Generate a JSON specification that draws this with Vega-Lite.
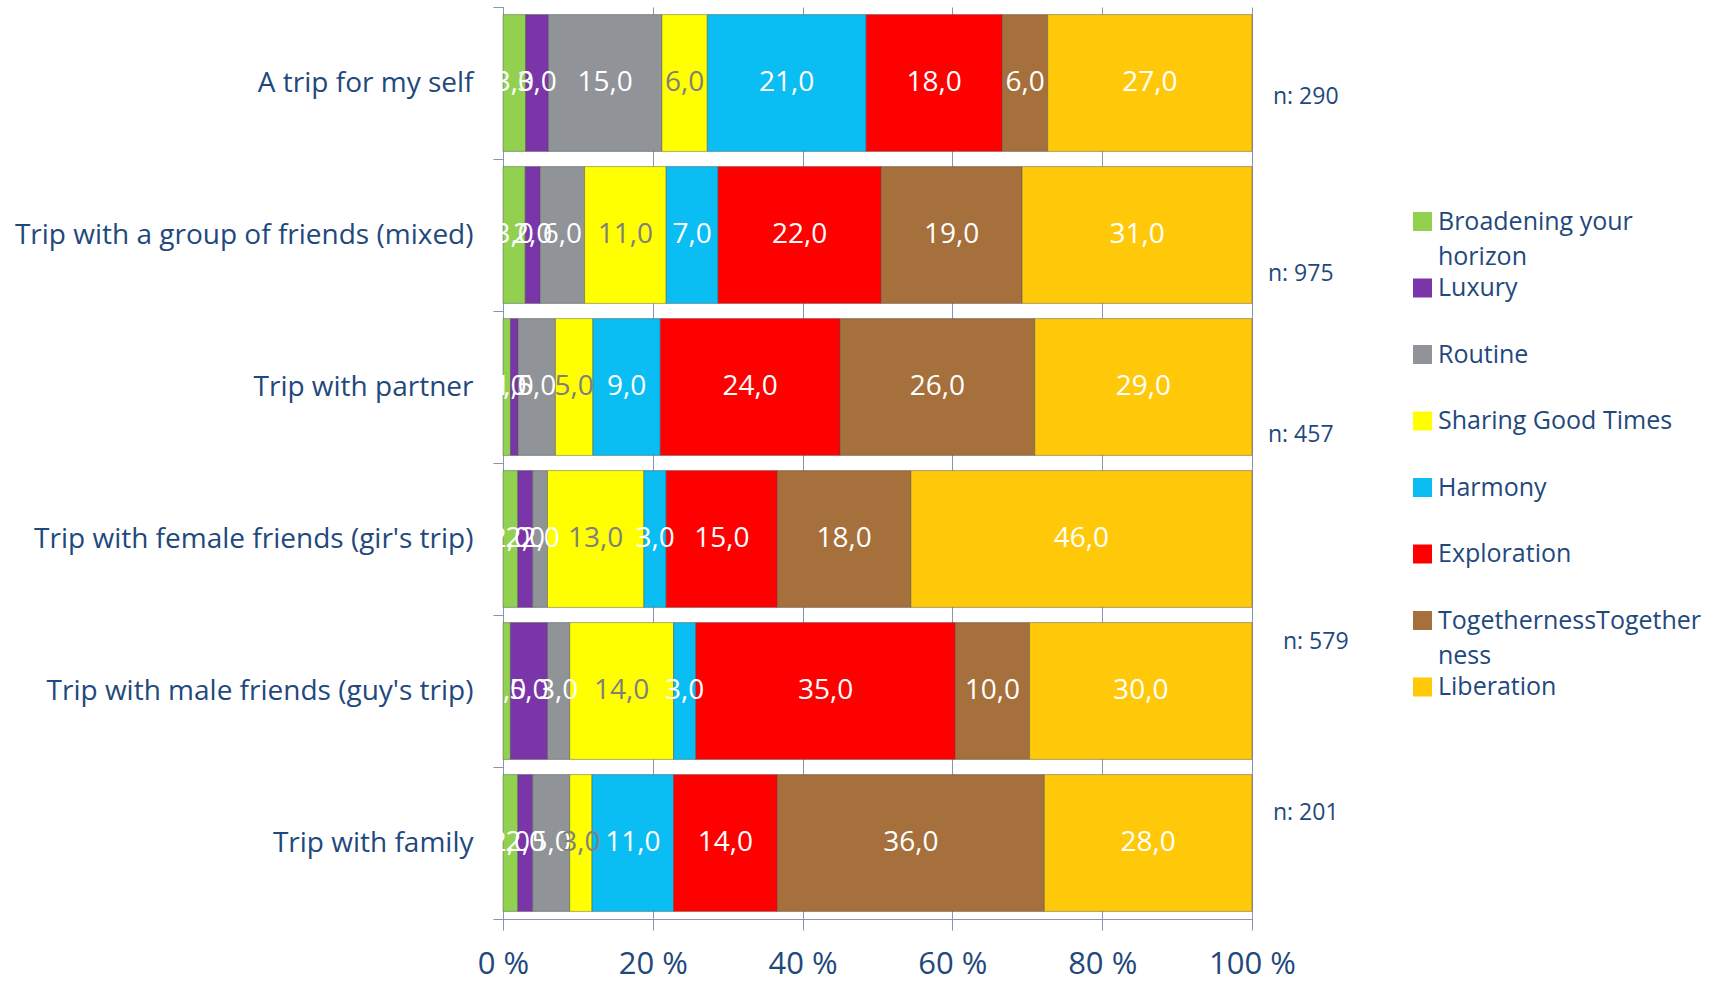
{
  "$schema": "https://vega.github.io/schema/vega-lite/v6.json",
  "width": 749,
  "height": 912,
  "autosize": {"type": "none"},
  "padding": {"left": 503, "top": 7, "right": 469, "bottom": 62},
  "background": "white",
  "config": {
    "font": "Open Sans",
    "locale": {
      "number": {"decimal": ",", "thousands": ".", "grouping": [3], "currency": ["", " €"]}
    },
    "view": {"stroke": null},
    "style": {"guide-label": {"lineHeight": 35}},
    "legend": {
      "orient": "none",
      "legendX": 907,
      "legendY": 202,
      "padding": 0,
      "symbolType": "square",
      "symbolSize": 361,
      "symbolStrokeWidth": 0,
      "labelFont": "Open Sans",
      "labelFontSize": 25,
      "labelColor": "#1F497D",
      "labelOffset": 3,
      "labelLimit": 500,
      "rowPadding": 5.5,
      "gridAlign": "all"
    }
  },
  "datasets": {
    "shares": [
      {"trip": "A trip for my self", "motive": "Broadening your horizon", "share": 3},
      {"trip": "A trip for my self", "motive": "Luxury", "share": 3},
      {"trip": "A trip for my self", "motive": "Routine", "share": 15},
      {"trip": "A trip for my self", "motive": "Sharing Good Times", "share": 6},
      {"trip": "A trip for my self", "motive": "Harmony", "share": 21},
      {"trip": "A trip for my self", "motive": "Exploration", "share": 18},
      {"trip": "A trip for my self", "motive": "TogethernessTogetherness", "share": 6},
      {"trip": "A trip for my self", "motive": "Liberation", "share": 27},
      {"trip": "Trip with a group of friends (mixed)", "motive": "Broadening your horizon", "share": 3},
      {"trip": "Trip with a group of friends (mixed)", "motive": "Luxury", "share": 2},
      {"trip": "Trip with a group of friends (mixed)", "motive": "Routine", "share": 6},
      {"trip": "Trip with a group of friends (mixed)", "motive": "Sharing Good Times", "share": 11},
      {"trip": "Trip with a group of friends (mixed)", "motive": "Harmony", "share": 7},
      {"trip": "Trip with a group of friends (mixed)", "motive": "Exploration", "share": 22},
      {"trip": "Trip with a group of friends (mixed)", "motive": "TogethernessTogetherness", "share": 19},
      {"trip": "Trip with a group of friends (mixed)", "motive": "Liberation", "share": 31},
      {"trip": "Trip with partner", "motive": "Broadening your horizon", "share": 1},
      {"trip": "Trip with partner", "motive": "Luxury", "share": 1},
      {"trip": "Trip with partner", "motive": "Routine", "share": 5},
      {"trip": "Trip with partner", "motive": "Sharing Good Times", "share": 5},
      {"trip": "Trip with partner", "motive": "Harmony", "share": 9},
      {"trip": "Trip with partner", "motive": "Exploration", "share": 24},
      {"trip": "Trip with partner", "motive": "TogethernessTogetherness", "share": 26},
      {"trip": "Trip with partner", "motive": "Liberation", "share": 29},
      {"trip": "Trip with female friends (gir's trip)", "motive": "Broadening your horizon", "share": 2},
      {"trip": "Trip with female friends (gir's trip)", "motive": "Luxury", "share": 2},
      {"trip": "Trip with female friends (gir's trip)", "motive": "Routine", "share": 2},
      {"trip": "Trip with female friends (gir's trip)", "motive": "Sharing Good Times", "share": 13},
      {"trip": "Trip with female friends (gir's trip)", "motive": "Harmony", "share": 3},
      {"trip": "Trip with female friends (gir's trip)", "motive": "Exploration", "share": 15},
      {"trip": "Trip with female friends (gir's trip)", "motive": "TogethernessTogetherness", "share": 18},
      {"trip": "Trip with female friends (gir's trip)", "motive": "Liberation", "share": 46},
      {"trip": "Trip with male friends (guy's trip)", "motive": "Broadening your horizon", "share": 1},
      {"trip": "Trip with male friends (guy's trip)", "motive": "Luxury", "share": 5},
      {"trip": "Trip with male friends (guy's trip)", "motive": "Routine", "share": 3},
      {"trip": "Trip with male friends (guy's trip)", "motive": "Sharing Good Times", "share": 14},
      {"trip": "Trip with male friends (guy's trip)", "motive": "Harmony", "share": 3},
      {"trip": "Trip with male friends (guy's trip)", "motive": "Exploration", "share": 35},
      {"trip": "Trip with male friends (guy's trip)", "motive": "TogethernessTogetherness", "share": 10},
      {"trip": "Trip with male friends (guy's trip)", "motive": "Liberation", "share": 30},
      {"trip": "Trip with family", "motive": "Broadening your horizon", "share": 2},
      {"trip": "Trip with family", "motive": "Luxury", "share": 2},
      {"trip": "Trip with family", "motive": "Routine", "share": 5},
      {"trip": "Trip with family", "motive": "Sharing Good Times", "share": 3},
      {"trip": "Trip with family", "motive": "Harmony", "share": 11},
      {"trip": "Trip with family", "motive": "Exploration", "share": 14},
      {"trip": "Trip with family", "motive": "TogethernessTogetherness", "share": 36},
      {"trip": "Trip with family", "motive": "Liberation", "share": 28}
    ],
    "counts": [
      {"trip": "A trip for my self", "n": 290},
      {"trip": "Trip with a group of friends (mixed)", "n": 975},
      {"trip": "Trip with partner", "n": 457},
      {"trip": "Trip with male friends (guy's trip)", "n": 579},
      {"trip": "Trip with family", "n": 201}
    ]
  },
  "layer": [
    {
      "data": {"name": "shares"},
      "transform": [
        {"calculate": "indexof(['Broadening your horizon', 'Luxury', 'Routine', 'Sharing Good Times', 'Harmony', 'Exploration', 'TogethernessTogetherness', 'Liberation'], datum.motive)", "as": "rank"},
        {"stack": "share", "groupby": ["trip"], "sort": [{"field": "rank", "order": "ascending"}], "offset": "normalize", "as": ["lo", "hi"]},
        {"calculate": "(datum.lo + datum.hi) / 2", "as": "mid"}
      ],
      "layer": [
        {
          "mark": {"type": "bar", "height": {"band": 0.9}, "stroke": "#4d4d4d", "strokeWidth": 1, "strokeOpacity": 0.45},
          "encoding": {
            "y": {
              "field": "trip",
              "type": "nominal",
              "scale": {
                "domain": ["A trip for my self", "Trip with a group of friends (mixed)", "Trip with partner", "Trip with female friends (gir's trip)", "Trip with male friends (guy's trip)", "Trip with family"],
                "paddingInner": 0,
                "paddingOuter": 0
              },
              "axis": {
                "title": null,
                "tickBand": "extent",
                "tickSize": 10,
                "tickColor": "#8a96ad",
                "domainColor": "#8a96ad",
                "labelFont": "Open Sans",
                "labelFontSize": 28,
                "labelColor": "#1F497D",
                "labelPadding": 20,
                "labelLimit": 600,
                "grid": false
              }
            },
            "x": {
              "field": "lo",
              "type": "quantitative",
              "scale": {"domain": [0, 1], "nice": false},
              "axis": {
                "title": null,
                "values": [0, 0.2, 0.4, 0.6, 0.8, 1],
                "labelExpr": "round(datum.value * 100) + ' %'",
                "grid": true,
                "gridColor": "#8a96ad",
                "gridOpacity": 1,
                "tickSize": 11,
                "tickColor": "#8a96ad",
                "domainColor": "#8a96ad",
                "labelFont": "Open Sans",
                "labelFontSize": 31,
                "labelColor": "#1F497D",
                "labelPadding": 19,
                "labelFlush": false
              }
            },
            "x2": {"field": "hi"},
            "color": {
              "field": "motive",
              "type": "nominal",
              "scale": {
                "domain": ["Broadening your horizon", "Luxury", "Routine", "Sharing Good Times", "Harmony", "Exploration", "TogethernessTogetherness", "Liberation"],
                "range": ["#92D050", "#7A35A8", "#909397", "#FFFF00", "#0ABDF3", "#FF0000", "#A5703B", "#FFC90A"]
              },
              "legend": {
                "title": null,
                "labelExpr": "datum.label == 'Broadening your horizon' ? ['Broadening your', 'horizon'] : datum.label == 'TogethernessTogetherness' ? ['TogethernessTogether', 'ness'] : datum.label"
              }
            }
          }
        },
        {
          "mark": {"type": "text", "font": "Open Sans", "fontSize": 28, "baseline": "middle", "align": "center"},
          "encoding": {
            "y": {"field": "trip", "type": "nominal"},
            "x": {"field": "mid", "type": "quantitative"},
            "text": {"field": "share", "type": "quantitative", "format": ".1f"},
            "color": {
              "condition": {"test": "datum.motive == 'Sharing Good Times'", "value": "#7f7f7f"},
              "value": "#ffffff"
            }
          }
        }
      ]
    },
    {
      "data": {"name": "counts"},
      "transform": [{"calculate": "'n: ' + datum.n", "as": "label"}, {"filter": "datum.n == 290"}],
      "mark": {"type": "text", "align": "left", "baseline": "middle", "dx": 21, "dy": 14, "font": "Open Sans", "fontSize": 23, "color": "#1F497D"},
      "encoding": {
        "x": {"datum": 1, "type": "quantitative"},
        "y": {"field": "trip", "type": "nominal"},
        "text": {"field": "label"}
      }
    },
    {
      "data": {"name": "counts"},
      "transform": [{"calculate": "'n: ' + datum.n", "as": "label"}, {"filter": "datum.n == 975"}],
      "mark": {"type": "text", "align": "left", "baseline": "middle", "dx": 16, "dy": 39, "font": "Open Sans", "fontSize": 23, "color": "#1F497D"},
      "encoding": {
        "x": {"datum": 1, "type": "quantitative"},
        "y": {"field": "trip", "type": "nominal"},
        "text": {"field": "label"}
      }
    },
    {
      "data": {"name": "counts"},
      "transform": [{"calculate": "'n: ' + datum.n", "as": "label"}, {"filter": "datum.n == 457"}],
      "mark": {"type": "text", "align": "left", "baseline": "middle", "dx": 16, "dy": 48, "font": "Open Sans", "fontSize": 23, "color": "#1F497D"},
      "encoding": {
        "x": {"datum": 1, "type": "quantitative"},
        "y": {"field": "trip", "type": "nominal"},
        "text": {"field": "label"}
      }
    },
    {
      "data": {"name": "counts"},
      "transform": [{"calculate": "'n: ' + datum.n", "as": "label"}, {"filter": "datum.n == 579"}],
      "mark": {"type": "text", "align": "left", "baseline": "middle", "dx": 31, "dy": -49, "font": "Open Sans", "fontSize": 23, "color": "#1F497D"},
      "encoding": {
        "x": {"datum": 1, "type": "quantitative"},
        "y": {"field": "trip", "type": "nominal"},
        "text": {"field": "label"}
      }
    },
    {
      "data": {"name": "counts"},
      "transform": [{"calculate": "'n: ' + datum.n", "as": "label"}, {"filter": "datum.n == 201"}],
      "mark": {"type": "text", "align": "left", "baseline": "middle", "dx": 21, "dy": -30, "font": "Open Sans", "fontSize": 23, "color": "#1F497D"},
      "encoding": {
        "x": {"datum": 1, "type": "quantitative"},
        "y": {"field": "trip", "type": "nominal"},
        "text": {"field": "label"}
      }
    }
  ]
}
